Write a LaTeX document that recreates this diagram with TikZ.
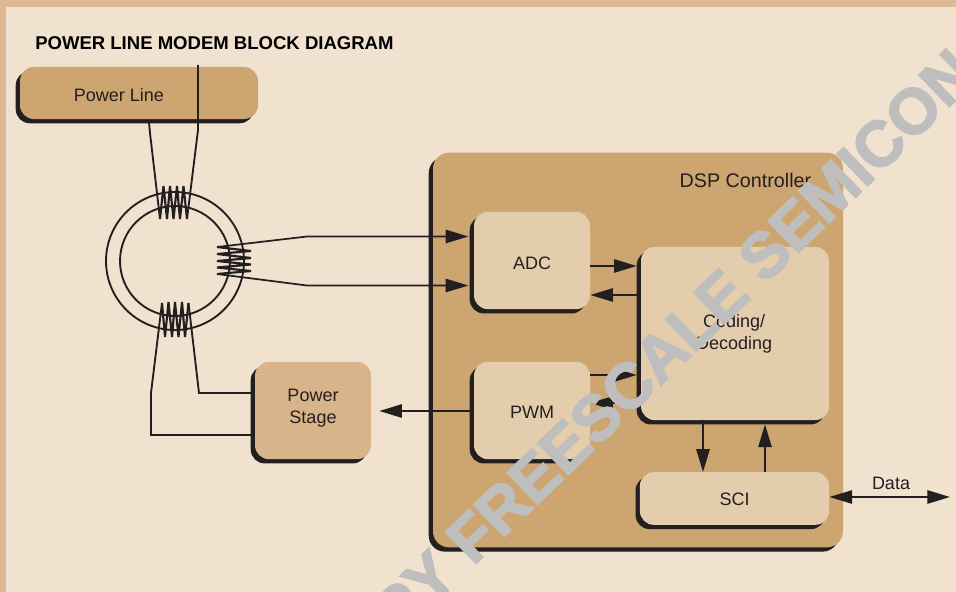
\documentclass[tikz,border=0pt]{standalone}
\usepackage{fontspec}
\setmainfont{Liberation Sans}
\newfontfamily\wmfont[FakeBold=2.5]{Liberation Sans Bold}
\usetikzlibrary{arrows.meta,shadows}
\definecolor{pagebg}{HTML}{F1E2CF}
\definecolor{strip}{HTML}{DDB995}
\definecolor{tandark}{HTML}{CDA570}
\definecolor{tanmid}{HTML}{D9B48A}
\definecolor{tanlight}{HTML}{E4CDAD}
\definecolor{ink}{HTML}{231F20}
\definecolor{wmark}{HTML}{BEBEBE}
\tikzset{
  blockbox/.style={rounded corners=10.5pt,inner sep=0pt,align=center,text=ink,font=\fontsize{13.5}{16.5}\selectfont,
    drop shadow={shadow xshift=-3.2pt,shadow yshift=-3.2pt,fill=ink,opacity=1}},
  labeltext/.style={text=ink,font=\fontsize{13.5}{16.5}\selectfont,inner sep=0pt,align=center},
  wire/.style={draw=ink,line width=1.4pt},
  coil/.style={draw=ink,line width=1.6pt},
  sig/.style={draw=ink,line width=1.3pt,-{Triangle[length=17pt,width=10pt]}},
  sigback/.style={draw=ink,line width=1.3pt,{Triangle[length=17pt,width=10pt]}-{Triangle[length=17pt,width=10pt]}},
  ring/.style={draw=ink,line width=1.4pt},
}
\begin{document}
\begin{tikzpicture}[x=0.75pt,y=-0.75pt]
\useasboundingbox (0,0) rectangle (956,592);
\fill[strip] (0,0) rectangle (956,592);
\fill[pagebg] (6,7) rectangle (956,592);
\node[anchor=base west,inner sep=0pt,text=black,font=\bfseries\fontsize{13.9}{16}\selectfont] (title) at (35,49.5) {POWER LINE MODEM BLOCK DIAGRAM};

% transformer core
\node[circle,ring,minimum size=103.5pt,inner sep=0pt] (outerring) at (175,261) {};
\node[circle,ring,minimum size=82.5pt,inner sep=0pt] (innerring) at (175,261) {};

% windings
\coordinate (topA) at (160,219);
\coordinate (topB) at (187,219);
\draw[coil,line join=bevel] (topA) -- (163.5,186) -- (167,219) -- (170,186) -- (173.5,219) -- (177,186) -- (180,219) -- (183.5,186) -- (topB);
\coordinate (botA) at (162,303);
\coordinate (botB) at (188.5,303);
\draw[coil,line join=bevel] (botA) -- (165,337) -- (168.5,302) -- (172,337) -- (175,302) -- (178.5,337) -- (182,302) -- (185,337) -- (botB);
\coordinate (rightA) at (217,247);
\coordinate (rightB) at (217,274);
\draw[coil,line join=bevel] (rightA) -- (251,251) -- (217,254) -- (251,258) -- (217,261) -- (251,264.5) -- (217,267.5) -- (251,271) -- (rightB);

% main boxes
\node[blockbox,fill=tandark,minimum width=178.5pt,minimum height=39pt] (pline) at (139,93) {};
\node[labeltext] (plinetext) at (119,95) {Power Line};
\node[blockbox,fill=tanmid,minimum width=87pt,minimum height=73pt,label={[labeltext,yshift=2pt]center:Power\\Stage}] (pstage) at (313,410.5) {};
\node[blockbox,fill=tandark,rounded corners=12pt,minimum width=307.5pt,minimum height=296pt] (dsp) at (638,350) {};
\node[labeltext,font=\fontsize{14.8}{16}\selectfont] (dsptext) at (745.5,180) {DSP Controller};
\node[blockbox,fill=tanlight,minimum width=87pt,minimum height=73pt,label={[labeltext,yshift=-1.8pt]center:ADC}] (adc) at (532,260.5) {};
\node[blockbox,fill=tanlight,minimum width=87pt,minimum height=73pt,label={[labeltext,yshift=-1.2pt]center:PWM}] (pwm) at (532,410.5) {};
\node[blockbox,fill=tanlight,minimum width=141pt,minimum height=130pt,label={[labeltext,xshift=-0.6pt,yshift=-0.2pt]center:Coding/\\Decoding}] (coding) at (735,333.5) {};
\node[blockbox,fill=tanlight,minimum width=142pt,minimum height=39.5pt,label={[labeltext,yshift=-0.6pt]center:SCI}] (sci) at (734.5,498.5) {};
\node[labeltext] (datatext) at (891,483) {Data};

% power line wires
\coordinate (plLeftTop) at (149,122);
\coordinate (plRightTop) at (198,65);
\draw[wire] (plLeftTop) -- (150,133) -- (topA);
\draw[wire] (plRightTop) -- (198,130) -- (topB);

% power stage wires
\draw[wire] (botA) -- (151,393) -- (151,435) -- (pstage.west |- 0,435);
\draw[wire] (botB) -- (199,393) -- (pstage.west |- 0,393);

% signals
\draw[sig,shorten >=4pt] (rightA) -- (307,236.5) -- (adc.west |- 0,236.5);
\draw[sig,shorten >=4pt] (rightB) -- (307,285.5) -- (adc.west |- 0,285.5);
\draw[sig,shorten >=3pt] (adc.east |- 0,266) -- (coding.west |- 0,266);
\draw[sig] (coding.west |- 0,295) -- (adc.east |- 0,295);
\draw[sig,shorten >=3pt] (pwm.east |- 0,375) -- (coding.west |- 0,375);
\draw[sig] (coding.west |- 0,403) -- (pwm.east |- 0,403);
\draw[sig,shorten >=6pt,shorten <=3pt] (pwm.west |- 0,411) -- (pstage.east |- 0,411);
\draw[sig] (coding.south -| 703,0) -- (sci.north -| 703,0);
\draw[sig,shorten >=3pt] (sci.north -| 765,0) -- (coding.south -| 765,0);
\coordinate (dataend) at (950,497);
\draw[sigback] (sci.east |- dataend) -- (dataend);

% watermark
\begin{scope}
\clip (0,0) rectangle (956,592);
\node[rotate=44,text=wmark,inner sep=0pt,font=\wmfont\fontsize{48}{48}\selectfont] (wm) at (674,342) {PY FREESCALE SEMICON};
\end{scope}
\end{tikzpicture}
\end{document}
